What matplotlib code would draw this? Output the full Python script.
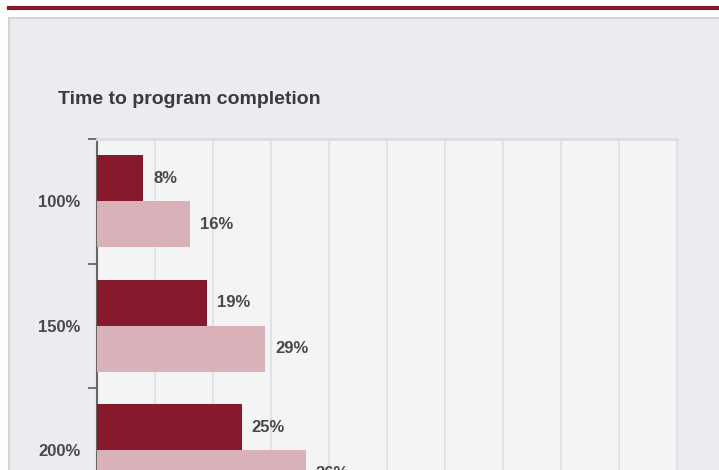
import numpy as np
import matplotlib
matplotlib.use('Agg')
import matplotlib.pyplot as plt
from matplotlib.patches import Rectangle
from matplotlib.lines import Line2D

plt.rcParams['font.family'] = ['Liberation Sans', 'DejaVu Sans']
plt.rcParams['font.weight'] = 'bold'

title = 'Time to program completion'
categories = ['100%', '150%', '200%']
series_a = [8, 19, 25]
series_b = [16, 29, 36]

dark = '#861a2c'
pink = '#d8b2b8'
text_col = '#484848'

fig = plt.figure(figsize=(7.19, 4.70), dpi=100, facecolor='white')

# top red rule and grey panel behind the chart
fig.add_artist(Line2D([9 / 719, 1], [1 - 8 / 470, 1 - 8 / 470],
                      transform=fig.transFigure, color=dark, lw=3))
fig.add_artist(Rectangle((9 / 719, -0.1), 1.0, 1 - 18 / 470 + 0.1,
                         transform=fig.transFigure, facecolor='#ebecf0',
                         edgecolor='#d4d4d4', lw=1.5, zorder=0))

ax = fig.add_axes([97 / 719, -42.5 / 470, 580 / 719, 373.5 / 470])
ax.set_facecolor('#f4f4f4')

y = np.arange(len(categories))
h = 0.37
ba = ax.barh(y - h / 2, series_a, height=h, color=dark, zorder=3)
bb = ax.barh(y + h / 2, series_b, height=h, color=pink, zorder=3)
for bars, vals in ((ba, series_a), (bb, series_b)):
    for r, v in zip(bars, vals):
        ax.annotate(f'{v}%', (r.get_width(), r.get_y() + r.get_height() / 2),
                    xytext=(7, 0), textcoords='offset points',
                    va='center', ha='left', fontsize=12, color=text_col)

ax.set_xlim(0, 100)
ax.set_ylim(len(categories) - 0.5, -0.5)
ax.set_xticks(np.arange(0, 101, 10))
ax.xaxis.grid(True, color='#dde2ec', lw=1.5, zorder=0)
ax.tick_params(axis='x', length=0, labelbottom=False)

ax.set_yticks(y)
ax.set_yticklabels(categories)
ax.set_yticks(np.arange(len(categories)) - 0.5, minor=True)
ax.tick_params(axis='y', which='major', length=0, pad=12, labelsize=12,
               labelcolor=text_col)
ax.tick_params(axis='y', which='minor', length=6.5, width=1.3, color='#666666')

ax.spines['left'].set_color('#666666')
ax.spines['left'].set_linewidth(1.5)
ax.spines['top'].set_color('#dcdcdc')
ax.spines['top'].set_linewidth(2)
ax.spines['right'].set_color('#dde2ec')
ax.spines['right'].set_linewidth(1.5)
ax.spines['bottom'].set_visible(False)

fig.text(58 / 719, 1 - 100 / 470, title, fontsize=14, color='#3a3a3a',
         ha='left', va='center')

fig.savefig('out.png', dpi=100)
